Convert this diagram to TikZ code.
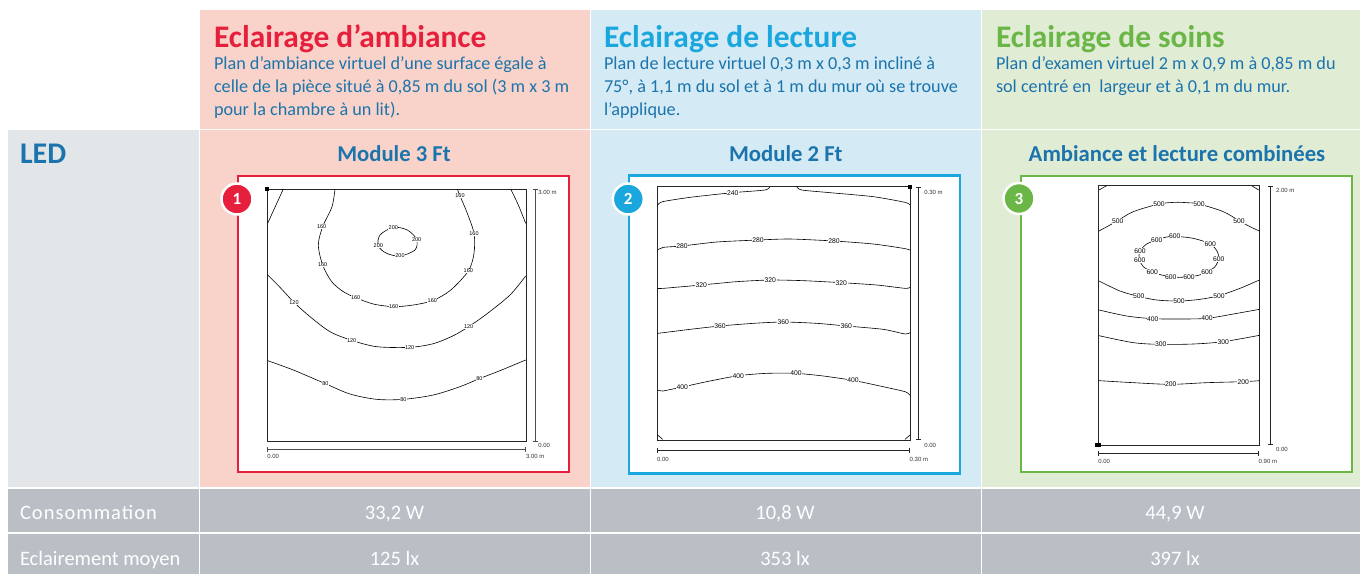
\documentclass[tikz,border=0pt]{standalone}
\usepackage{fontspec}
\setmainfont{Carlito}
\newfontfamily\isofont{Liberation Sans}
\usetikzlibrary{arrows.meta,positioning}

\definecolor{redc}{HTML}{E61F3D}
\definecolor{cyanc}{HTML}{1AA7DE}
\definecolor{greenc}{HTML}{6AB646}
\definecolor{bluetxt}{HTML}{1B74AC}
\definecolor{pinkbg}{HTML}{F9D3C9}
\definecolor{bluebg}{HTML}{D4EAF5}
\definecolor{greenbg}{HTML}{E1ECD5}
\definecolor{ledbg}{HTML}{E3E6E9}
\definecolor{rowbg}{HTML}{B9BFC5}

\begin{document}
\begin{tikzpicture}[x=1pt, y=-1pt,
  every node/.style = {inner sep=0pt, outer sep=0pt},
  title/.style = {anchor=base west, font=\bfseries\fontsize{31.4}{32}\selectfont},
  desc/.style = {anchor=base west, text=bluetxt, font=\fontsize{18.2}{19}\selectfont},
  colhead/.style = {anchor=base, text=bluetxt, font=\bfseries\fontsize{22.7}{24}\selectfont},
  rowtxt/.style = {text=white, font=\fontsize{20.5}{22}\selectfont},
  badge/.style = {circle, draw=white, line width=2.5pt, minimum size=31pt,
    text=white, font=\bfseries\fontsize{17}{17}\selectfont},
  frame/.style = {fill=white, line width=2.5pt},
  plotbox/.style = {draw=black!85, line width=0.8pt},
  iso/.style = {draw=black, line width=0.6pt},
  isolbl/.style = {fill=white, inner sep=0.5pt, font=\isofont\fontsize{5.5}{6}\selectfont},
  scalebar/.style = {draw=black!70, line width=1pt, {Bar[width=5pt]}-{Bar[width=5pt]}},
  scalelbl/.style = {anchor=west, text=black!80, font=\isofont\fontsize{6}{7}\selectfont}]

\useasboundingbox (0,0) rectangle (1360,574);

% cells
\foreach \l/\r/\c in {200/589.5/pinkbg, 591/980.5/bluebg, 982/1360/greenbg} {
  \fill[\c] (\l,10) rectangle (\r,128.5);
  \fill[\c] (\l,130) rectangle (\r,487);
  \fill[rowbg] (\l,489) rectangle (\r,532);
  \fill[rowbg] (\l,534) rectangle (\r,574);
}
\fill[ledbg] (8,130) rectangle (198.5,487);
\fill[rowbg] (8,489) rectangle (198.5,532);
\fill[rowbg] (8,534) rectangle (198.5,574);

% header texts
\node[title, text=redc] (t1) at (214,47.7) {Eclairage d’ambiance};
\node[desc] (d11) at (214,69.8) {Plan d’ambiance virtuel d’une surface égale à};
\node[desc] (d12) at (214,92.5) {celle de la pièce situé à 0,85 m du sol (3 m x 3 m};
\node[desc] (d13) at (214,115.2) {pour la chambre à un lit).};

\node[title, text=cyanc] (t2) at (604,47.7) {Eclairage de lecture};
\node[desc] (d21) at (604,69.8) {Plan de lecture virtuel 0,3 m x 0,3 m incliné à};
\node[desc] (d22) at (604,92.5) {75°, à 1,1 m du sol et à 1 m du mur où se trouve};
\node[desc] (d23) at (604,115.2) {l'applique.};

\node[title, text=greenc] (t3) at (996,47.7) {Eclairage de soins};
\node[desc] (d31) at (996,69.8) {Plan d’examen virtuel 2 m x 0,9 m à 0,85 m du};
\node[desc] (d32) at (996,92.5) {sol centré en\ \ largeur et à 0,1 m du mur.};

\node[anchor=base west, text=bluetxt, font=\bfseries\fontsize{30}{30}\selectfont] (led) at (20,163.3) {LED};
\node[colhead] (m1) at (394,161.7) {Module 3 Ft};
\node[colhead] (m2) at (785.8,161.7) {Module 2 Ft};
\node[colhead] (m3) at (1177,161.7) {Ambiance et lecture combinées};

% frames
\draw[frame, draw=redc] (238,176) rectangle (569,472);
\draw[frame, draw=cyanc] (629,175.5) rectangle (960,473.5);
\draw[frame, draw=greenc] (1021,176) rectangle (1352,472);

% plot 1
\begin{scope}[shift={(200,170)}, scale=1/3]
  \draw[plotbox] (202,57) rectangle (978,815);
  \fill (196,51) rectangle (208,63);
  \draw[iso] plot[smooth] coordinates {(250,57) (228,105) (203,160)};
  \draw[iso] plot[smooth] coordinates {(932,57) (955,105) (977,160)};
  \draw[iso] plot[smooth] coordinates {(405,57) (396,110) (368,170) (355,225) (368,285) (395,335)
    (430,365) (467,383) (520,402) (581,410) (640,405) (697,392) (750,362) (805,303) (822,250)
    (822,190) (800,125) (780,78) (772,57)};
  \draw[iso] plot[smooth cycle] coordinates {(580,172) (622,180) (650,208) (645,240) (600,258)
    (560,250) (535,228) (540,195)};
  \draw[iso] plot[smooth] coordinates {(203,315) (240,352) (282,397) (330,440) (390,485) (455,511)
    (530,530) (629,532) (700,521) (760,497) (806,470) (860,432) (930,375) (977,318)};
  \draw[iso] plot[smooth] coordinates {(203,572) (280,600) (376,641) (450,672) (530,688) (610,688)
    (700,675) (780,650) (838,626) (900,602) (977,570)};
  \foreach \x/\y/\v [count=\i] in {365/170/160, 368/285/160, 467/383/160, 581/410/160, 697/392/160,
    805/303/160, 822/190/160, 780/78/160, 580/172/200, 650/208/200, 600/258/200, 535/228/200,
    282/397/120, 455/511/120, 629/532/120, 806/470/120, 376/641/80, 610/688/80, 838/626/80}
    \node[isolbl] (pa\i) at (\x,\y) {\v};
  \draw[scalebar] (1005,57) -- (1005,815);
  \draw[scalebar] (202,838) -- (978,838);
  \node[scalelbl] (pay1) at (1015,68) {3.00 m};
  \node[scalelbl] (pay0) at (1015,826) {0.00};
  \node[scalelbl] (pax0) at (202,860) {0.00};
  \node[scalelbl] (pax1) at (978,860) {3.00 m};
\end{scope}

% plot 2
\begin{scope}[shift={(590,170)}, scale=1/3]
  \draw[plotbox] (201,50) rectangle (961,811);
  \fill (955,44) rectangle (967,56);
  \draw[iso] plot[smooth, tension=0.4] coordinates {(203,105) (218,95) (300,82) (428,68) (525,60) (540,50)};
  \draw[iso] plot[smooth, tension=0.4] coordinates {(620,50) (635,60) (720,68) (850,80) (945,97) (960,105)};
  \draw[iso] plot[smooth, tension=0.4] coordinates {(203,240) (220,232) (276,228) (380,216) (504,210)
    (600,207) (732,213) (850,222) (940,235) (960,240)};
  \draw[iso] plot[smooth, tension=0.4] coordinates {(203,355) (220,355) (334,345) (440,335) (541,330)
    (640,332) (754,338) (860,345) (945,355) (960,352)};
  \draw[iso] plot[smooth, tension=0.4] coordinates {(203,490) (220,488) (300,478) (390,468) (490,460)
    (580,456) (680,460) (769,468) (880,478) (945,492) (960,488)};
  \draw[iso] plot[smooth, tension=0.4] coordinates {(203,660) (218,663) (277,651) (350,635) (445,617)
    (530,610) (618,610) (700,618) (789,631) (870,648) (945,665) (960,676)};
  \draw[iso] (203,795) -- (218,808);
  \draw[iso] (945,808) -- (960,795);
  \foreach \x/\y/\v [count=\i] in {428/68/240, 276/228/280, 504/210/280, 732/213/280,
    334/345/320, 541/330/320, 754/338/320, 390/468/360, 580/456/360, 769/468/360,
    277/651/400, 445/617/400, 618/610/400, 789/631/400}
    \node[isolbl, font=\isofont\fontsize{6.8}{7}\selectfont] (pb\i) at (\x,\y) {\v};
  \draw[scalebar, draw=black!85] (985,50) -- (985,811);
  \draw[scalebar, draw=black!85] (201,840) -- (961,840);
  \node[scalelbl] (pby1) at (1003,66) {0.30 m};
  \node[scalelbl] (pby0) at (1003,825) {0.00};
  \node[scalelbl] (pbx0) at (201,868) {0.00};
  \node[scalelbl] (pbx1) at (959,868) {0.30 m};
\end{scope}

% plot 3
\begin{scope}[shift={(980,170)}, scale=1/3]
  \draw[plotbox] (355,47) rectangle (838,826);
  \fill (344,819) rectangle (363,832);
  \draw[iso] (357,60) -- (380,47);
  \draw[iso] (815,47) -- (836,60);
  \draw[iso] plot[smooth] coordinates {(357,183) (390,165) (413,152) (460,125) (537,102) (585,97)
    (620,98) (657,102) (730,125) (777,152) (810,170) (838,183)};
  \draw[iso] plot[smooth cycle] coordinates {(584,199) (640,205) (691,222) (712,245) (716,266)
    (705,290) (681,306) (655,316) (627,320) (600,322) (572,320) (545,315) (517,306) (490,290)
    (479,271) (477,255) (480,242) (500,222) (530,210) (555,202)};
  \draw[iso] plot[smooth] coordinates {(357,333) (420,363) (476,379) (530,390) (597,393) (660,388)
    (717,377) (780,355) (838,330)};
  \draw[iso] plot[smooth] coordinates {(357,420) (440,438) (518,446) (600,447) (681,445) (760,432) (838,418)};
  \draw[iso] plot[smooth] coordinates {(357,497) (460,518) (542,523) (640,522) (730,515) (838,496)};
  \draw[iso] plot[smooth] coordinates {(357,632) (460,638) (572,643) (680,638) (790,635) (838,632)};
  \foreach \x/\y/\v [count=\i] in {413/152/500, 537/102/500, 657/102/500, 777/152/500,
    584/199/600, 691/222/600, 716/266/600, 681/306/600, 627/320/600, 572/320/600, 517/306/600,
    479/271/600, 480/242/600, 530/210/600, 476/379/500, 597/393/500, 717/377/500,
    518/446/400, 681/445/400, 542/523/300, 730/515/300, 572/643/200, 790/635/200}
    \node[isolbl, font=\isofont\fontsize{6.8}{7}\selectfont] (pc\i) at (\x,\y) {\v};
  \draw[scalebar, draw=black!85] (872,47) -- (872,826);
  \draw[scalebar, draw=black!85] (355,851) -- (838,851);
  \node[scalelbl] (pcy1) at (888,60) {2.00 m};
  \node[scalelbl] (pcy0) at (888,837) {0.00};
  \node[scalelbl] (pcx0) at (355,873) {0.00};
  \node[scalelbl] (pcx1) at (836,873) {0.90 m};
\end{scope}

% badges
\node[badge, fill=redc] (b1) at (237,199) {1};
\node[badge, fill=cyanc] (b2) at (628.3,199) {2};
\node[badge, fill=greenc] (b3) at (1019,198.5) {3};

% bottom rows
\node[rowtxt, anchor=base west] (cons) at (20,519.3) {\addfontfeature{LetterSpace=5}Consommation};
\node[rowtxt, anchor=base] (cons1) at (394.5,519.3) {33,2 W};
\node[rowtxt, anchor=base] (cons2) at (785,519.3) {10,8 W};
\node[rowtxt, anchor=base] (cons3) at (1175,519.3) {44,9 W};
\node[rowtxt, anchor=base west] (ecl) at (20,565) {Eclairement moyen};
\node[rowtxt, anchor=base] (ecl1) at (394.5,565) {125 lx};
\node[rowtxt, anchor=base] (ecl2) at (785,565) {353 lx};
\node[rowtxt, anchor=base] (ecl3) at (1175,565) {397 lx};
\end{tikzpicture}
\end{document}
